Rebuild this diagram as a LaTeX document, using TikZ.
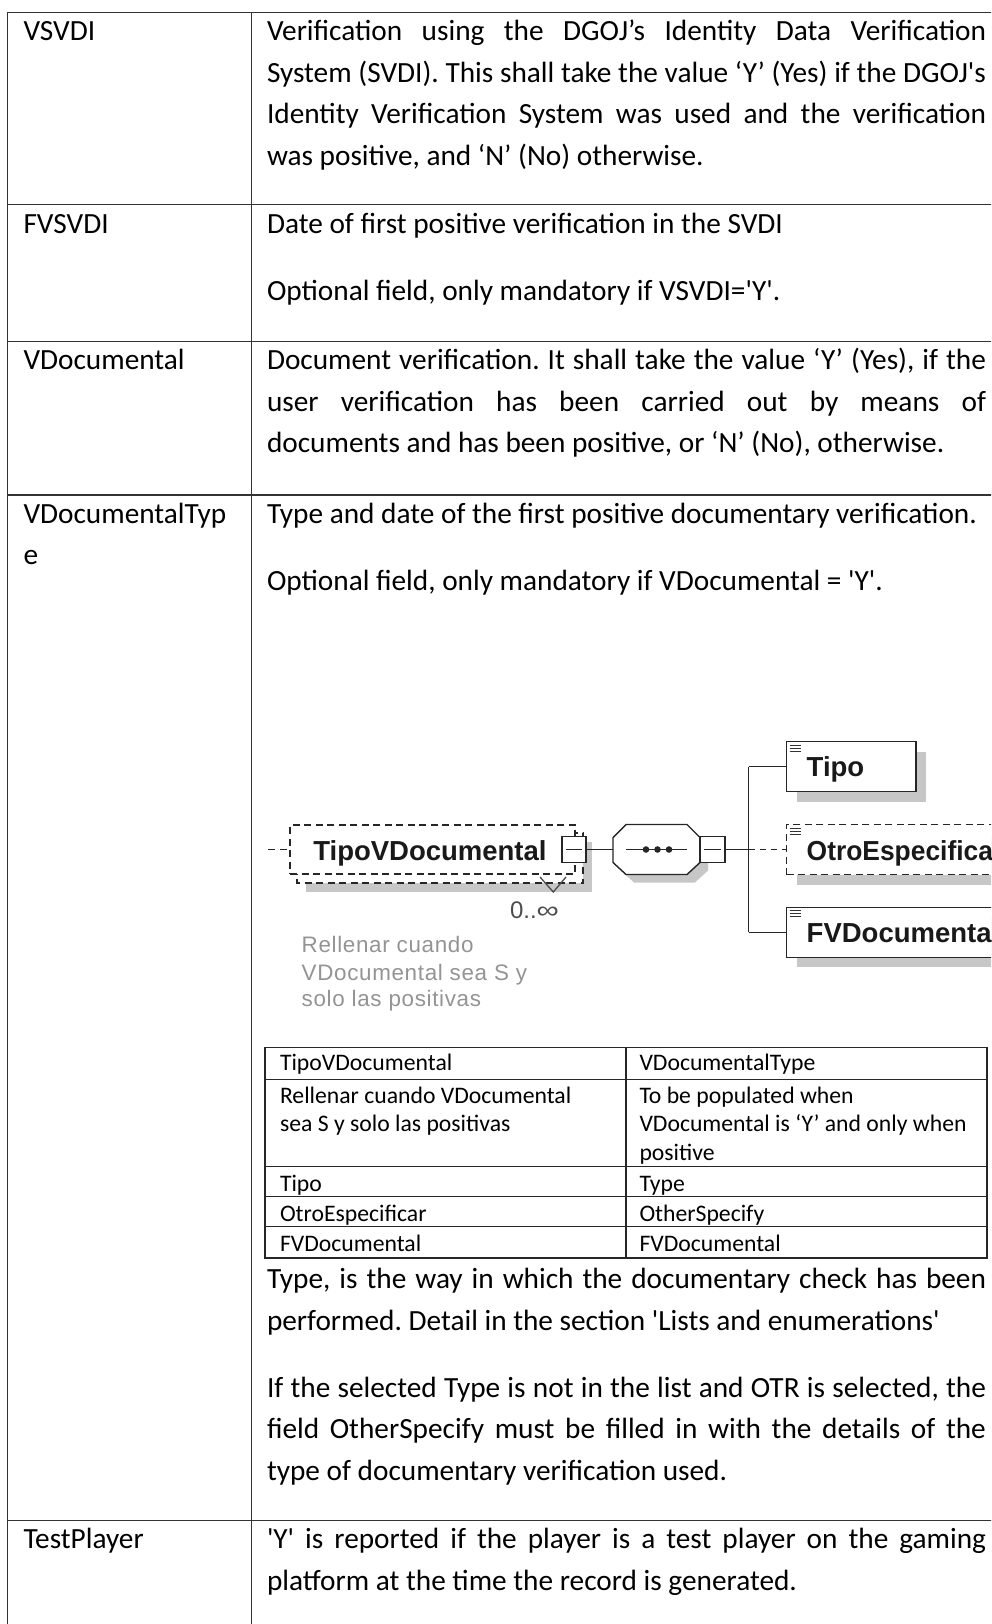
\documentclass[tikz,border=0pt]{standalone}
\usepackage{fontspec}
\newfontfamily\bodyfont{Carlito}
\newfontfamily\xsdfont{Liberation Sans}
\newfontfamily\xsdnote{Liberation Sans}[LetterSpace=3]
\usetikzlibrary{shadows}
\newcommand\sq{\textquotesingle}
\newlength\jwidth
\setlength\jwidth{719pt}
\newcommand\jline[1]{\makebox[\jwidth][s]{#1}}
\begin{document}
\frenchspacing
\begin{tikzpicture}[x=1pt,y=-1pt,
  txt/.style={anchor=base west, inner sep=0pt, outer sep=0pt,
    font=\bodyfont\fontsize{29.3pt}{41.4pt}\selectfont},
  itxt/.style={anchor=base west, inner sep=0pt, outer sep=0pt,
    font=\bodyfont\fontsize{23.7pt}{28pt}\selectfont},
  rule/.style={line width=1.5pt, draw=black!80},
  irule/.style={line width=1.1pt, draw=black!85},
  xsdb/.style={anchor=base west, inner sep=0pt, outer sep=0pt,
    font=\xsdfont\bfseries\fontsize{27.5pt}{30pt}\selectfont, text=black!90},
  xsdn/.style={anchor=base west, inner sep=0pt, outer sep=0pt,
    font=\xsdnote\fontsize{22.4pt}{27pt}\selectfont},
  ebox/.style={draw=black!85, line width=1.4pt, fill=white, inner sep=0pt,
    outer sep=0pt},
  optb/.style={dash pattern=on 7pt off 4.5pt},
  shade/.style={drop shadow={shadow xshift=10pt, shadow yshift=-10pt,
    fill=black!22, opacity=1}},
  mbox/.style={draw=black!85, line width=1.1pt, fill=white, inner sep=0pt,
    outer sep=0pt},
  conn/.style={draw=black!85, line width=1.3pt},
  icon/.style={draw=black!80, line width=0.9pt}]
\useasboundingbox (0,0) rectangle (991,1624);
\clip (0,0) rectangle (991,1624);
\fill[white] (0,0) rectangle (991,1624);

% ---- outer table grid ----
\foreach \yy in {12.7,204.7,341.7,495,1520.7}
  \draw[rule] (7.5,\yy) -- (996,\yy);
\draw[rule] (7.5,12) -- (7.5,1630);
\draw[rule] (251.7,12) -- (251.7,1630);

% ---- field names ----
\node[txt] (n1) at (23.5,40.9) {VSVDI};
\node[txt] (n2) at (23.5,233.8) {FVSVDI};
\node[txt] (n3) at (23.5,369.9) {VDocumental};
\node[txt] (n4a) at (23.5,523.2) {VDocumentalTyp};
\node[txt] (n4b) at (23.5,564.6) {e};
\node[txt] (n5) at (23.5,1548.9) {TestPlayer};

% ---- descriptions ----
\node[txt] (d1a) at (267,40.9) {\jline{Verification using the DGOJ’s Identity Data Verification}};
\node[txt] (d1b) at (267,82.3) {\jline{System (SVDI). This shall take the value ‘Y’ (Yes) if the DGOJ\sq s}};
\node[txt] (d1c) at (267,123.7) {\jline{Identity Verification System was used and the verification}};
\node[txt] (d1d) at (267,165.1) {was positive, and ‘N’ (No) otherwise.};

\node[txt] (d2a) at (267,233.8) {Date of first positive verification in the SVDI};
\node[txt] (d2b) at (267,300.6) {Optional field, only mandatory if VSVDI=\sq Y\sq.};

\node[txt] (d3a) at (267,369.9) {\jline{Document verification. It shall take the value ‘Y’ (Yes), if the}};
\node[txt] (d3b) at (267,411.3) {\jline{user verification has been carried out by means of}};
\node[txt] (d3c) at (267,452.7) {documents and has been positive, or ‘N’ (No), otherwise.};

\node[txt] (d4a) at (267,523.2) {Type and date of the first positive documentary verification.};
\node[txt] (d4b) at (267,590.2) {Optional field, only mandatory if VDocumental = \sq Y\sq.};

\node[txt] (d4c) at (267,1288.7) {\jline{Type, is the way in which the documentary check has been}};
\node[txt] (d4d) at (267,1330.1) {performed. Detail in the section \sq Lists and enumerations\sq};
\node[txt] (d4e) at (267,1397.2) {\jline{If the selected Type is not in the list and OTR is selected, the}};
\node[txt] (d4f) at (267,1438.6) {\jline{field OtherSpecify must be filled in with the details of the}};
\node[txt] (d4g) at (267,1480) {type of documentary verification used.};

\node[txt] (d5a) at (267,1548.9) {\jline{\sq Y\sq{} is reported if the player is a test player on the gaming}};
\node[txt] (d5b) at (267,1590.3) {platform at the time the record is generated.};

% ---- schema diagram ----
% repeated element TipoVDocumental: shadow, back copy, front box
\fill[black!22] (306,842) rectangle (592,892);
\draw[ebox, optb] (297,833) rectangle (583,883);
\node[ebox, optb, minimum width=285pt, minimum height=49pt] (tvd) at (432.5,849.5) {};
\draw[conn, dash pattern=on 7pt off 5pt] (268,849.5) -- (tvd.west);
\node[xsdb] (tvdL) at (313.3,860) {TipoVDocumental};
\node[mbox, minimum width=24pt, minimum height=26pt] (mb1) at (574,849.5) {};
\draw[conn] ([xshift=4pt]mb1.west) -- ([xshift=-4pt]mb1.east);
\draw[draw=black!70, line width=1.3pt] (540,877) -- (553.3,892) -- (566,877);
\node[anchor=base west, inner sep=0pt, outer sep=0pt, text=black!70,
  font=\xsdfont\fontsize{24pt}{27pt}\selectfont] (occ) at (510,918) {0..\scalebox{1.3}[1]{∞}};
\node[xsdn, text=black!42] (note1) at (301.7,952.7) {Rellenar cuando};
\node[xsdn, text=black!42] (note2) at (301.7,980) {VDocumental sea S y};
\node[xsdn, text=black!42] (note3) at (301.7,1006.7) {solo las positivas};

% sequence compositor
\node[inner sep=0pt, outer sep=0pt, minimum width=87pt, minimum height=50pt] (seq) at (656.5,849.5) {};
\fill[black!22] (634,832.5) -- (695,832.5) -- (708,845.5) -- (708,870.5) -- (695,882.5)
  -- (634,882.5) -- (621,870.5) -- (621,845.5) -- cycle;
\draw[ebox] (626,824.5) -- (687,824.5) -- (700,837.5) -- (700,862.5) -- (687,874.5)
  -- (626,874.5) -- (613,862.5) -- (613,837.5) -- cycle;
\draw[conn] (626,849.5) -- (687,849.5);
\foreach \dx in {646,657.5,669} \fill[black!85] (\dx,849.5) circle (3.3pt);
\draw[conn] (mb1.east) -- (seq.west);
\node[mbox, minimum width=25pt, minimum height=26pt] (mb2) at (712.5,849.5) {};
\draw[conn] ([xshift=4pt]mb2.west) -- ([xshift=-4pt]mb2.east);

% child elements
\node[ebox, shade, minimum width=129.3pt, minimum height=50pt] (tipo) at (851.35,766.7) {};
\node[ebox, shade, optb, minimum width=223.3pt, minimum height=50pt] (otro) at (898.35,849.5) {};
\node[ebox, shade, minimum width=223.3pt, minimum height=50pt] (fvd) at (898.35,932.3) {};
\node[xsdb] (tipoL) at (806.7,776.7) {Tipo};
\node[xsdb] (otroL) at (806.7,860) {\scalebox{0.96}[1]{OtroEspecificar}};
\node[xsdb] (fvdL) at (806.7,942.7) {FVDocumental};
\foreach \b in {tipo,otro,fvd} {
  \draw[icon] ([xshift=3pt,yshift=-3.5pt]\b.north west) -- ++(11,0);
  \draw[icon] ([xshift=3pt,yshift=-6.5pt]\b.north west) -- ++(11,0);
  \draw[icon] ([xshift=3pt,yshift=-9.5pt]\b.north west) -- ++(11,0);
}

% branch connectors
\coordinate (bar) at (748.5,849.5);
\draw[conn] (mb2.east) -- (bar);
\draw[conn] (bar |- tipo.west) -- (bar |- fvd.west);
\draw[conn] (bar |- tipo.west) -- (tipo.west);
\draw[conn, dash pattern=on 6pt off 5pt] (bar) -- (otro.west);
\draw[conn] (bar |- fvd.west) -- (fvd.west);

% ---- translation table ----
\draw[irule] (265,1047.3) rectangle (987,1258);
\draw[irule] (626,1047.3) -- (626,1258);
\foreach \yy in {1079.3,1166.7,1196.7,1226.2}
  \draw[irule] (265,\yy) -- (987,\yy);
\node[itxt] (t1l) at (280,1070.7) {TipoVDocumental};
\node[itxt] (t1r) at (639.5,1070.7) {VDocumentalType};
\node[itxt] (t2l) at (280,1103.5) {Rellenar cuando VDocumental};
\node[itxt] (t2m) at (280,1131.8) {sea S y solo las positivas};
\node[itxt] (t2r) at (639.5,1103.5) {To be populated when};
\node[itxt] (t2s) at (639.5,1131.8) {VDocumental is ‘Y’ and only when};
\node[itxt] (t2t) at (639.5,1160) {positive};
\node[itxt] (t3l) at (280,1191) {Tipo};
\node[itxt] (t3r) at (639.5,1191) {Type};
\node[itxt] (t4l) at (280,1221.2) {OtroEspecificar};
\node[itxt] (t4r) at (639.5,1221.2) {OtherSpecify};
\node[itxt] (t5l) at (280,1251.2) {FVDocumental};
\node[itxt] (t5r) at (639.5,1251.2) {FVDocumental};
\end{tikzpicture}
\end{document}
